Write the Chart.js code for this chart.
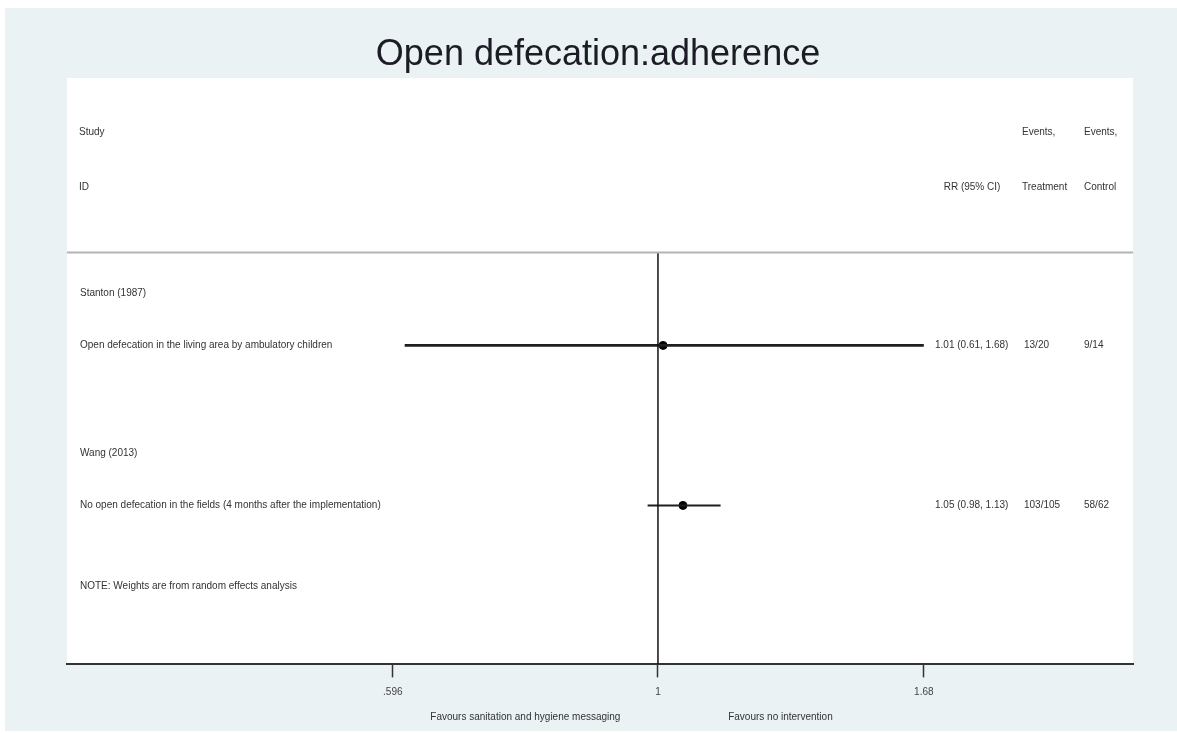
<!DOCTYPE html>
<html>
<head>
<meta charset="utf-8">
<script src="https://cdn.jsdelivr.net/npm/chart.js@4.4.1/dist/chart.umd.min.js"></script>
<style>
  html, body { margin: 0; padding: 0; background: #fff; }
  #frame { position: absolute; left: 5px; top: 8px; width: 1172px; height: 723px; background: #eaf2f3; }
  #forest { position: absolute; left: 0; top: 0; }
</style>
</head>
<body>
<div id="frame"></div>
<canvas id="forest" width="1177" height="733"></canvas>
<script>
// studies and results
const studies = ['Stanton (1987)', 'Wang (2013)'];
const outcomes = [
  'Open defecation in the living area by ambulatory children',
  'No open defecation in the fields (4 months after the implementation)'
];
const rr = [1.01, 1.05];
const ciLow = [0.61, 0.98];
const ciHigh = [1.68, 1.13];
const rrText = ['1.01 (0.61, 1.68)', '1.05 (0.98, 1.13)'];
const eventsTreatment = ['13/20', '103/105'];
const eventsControl = ['9/14', '58/62'];

// row slots (y scale units, top = 0)
const studyRows = [4.13, 7.2];
const outcomeRows = [5.13, 8.2];
const headerRows = [1.05, 2.1];
const separatorRow = 3.35;
const noteRow = 9.75;
const yMax = 11.25;

// axis
const xMin = 0.3156;
const xMax = 2.527;
const xTicks = [0.596, 1, 1.68];
const xTickLabels = ['.596', '1', '1.68'];
const favours = ['Favours sanitation and hygiene messaging', 'Favours no intervention'];
const favoursAt = [0.772, 1.27];

const FONT = "'Liberation Sans', Arial, sans-serif";

const ciSets = studies.map((s, i) => ({
  type: 'line',
  label: s,
  data: [{ x: ciLow[i], y: outcomeRows[i] }, { x: ciHigh[i], y: outcomeRows[i] }],
  borderColor: '#1e1e1e',
  borderWidth: i === 0 ? 2.6 : 2,
  pointRadius: 0
}));

const forestText = {
  id: 'forestText',
  beforeDraw(chart) {
    const { ctx, chartArea: a } = chart;
    ctx.save();
    ctx.fillStyle = '#ffffff';
    ctx.fillRect(a.left, a.top, a.right - a.left, a.bottom - a.top);
    ctx.restore();
  },
  afterDraw(chart) {
    const { ctx, scales } = chart;
    const y = (v) => scales.y.getPixelForValue(v);
    ctx.save();
    ctx.textBaseline = 'middle';

    ctx.fillStyle = '#1c1c26';
    ctx.font = '36px ' + FONT;
    ctx.textAlign = 'center';
    ctx.fillText('Open defecation:adherence', 598, 55);

    ctx.fillStyle = '#333';
    ctx.font = '10px ' + FONT;
    ctx.textAlign = 'left';
    ctx.fillText('Study', 79, y(headerRows[0]));
    ctx.fillText('ID', 79, y(headerRows[1]));
    ctx.fillText('Events,', 1022, y(headerRows[0]));
    ctx.fillText('Events,', 1084, y(headerRows[0]));
    ctx.fillText('Treatment', 1022, y(headerRows[1]));
    ctx.fillText('Control', 1084, y(headerRows[1]));
    ctx.textAlign = 'center';
    ctx.fillText('RR (95% CI)', 972, y(headerRows[1]));

    studies.forEach((s, i) => {
      ctx.textAlign = 'left';
      ctx.fillText(s, 80, y(studyRows[i]));
      ctx.fillText(outcomes[i], 80, y(outcomeRows[i]));
      ctx.fillText(rrText[i], 935, y(outcomeRows[i]));
      ctx.fillText(eventsTreatment[i], 1024, y(outcomeRows[i]));
      ctx.fillText(eventsControl[i], 1084, y(outcomeRows[i]));
    });
    ctx.fillText('NOTE: Weights are from random effects analysis', 80, y(noteRow));

    ctx.textAlign = 'center';
    favours.forEach((f, i) => {
      ctx.fillText(f, scales.x.getPixelForValue(favoursAt[i]), 717);
    });
    ctx.restore();
  }
};

new Chart(document.getElementById('forest'), {
  type: 'scatter',
  data: {
    datasets: [
      {
        type: 'line',
        label: 'header rule',
        data: [{ x: xMin, y: separatorRow }, { x: xMax, y: separatorRow }],
        borderColor: '#b4b4b4',
        borderWidth: 2,
        pointRadius: 0
      },
      {
        type: 'line',
        label: 'no effect',
        data: [{ x: 1, y: separatorRow }, { x: 1, y: yMax }],
        borderColor: '#111',
        borderWidth: 1.5,
        pointRadius: 0
      },
      ...ciSets,
      {
        label: 'RR',
        data: rr.map((v, i) => ({ x: v, y: outcomeRows[i] })),
        backgroundColor: '#000',
        borderColor: '#000',
        pointRadius: 4
      }
    ]
  },
  options: {
    responsive: false,
    animation: false,
    layout: { padding: { left: 67, right: 44, top: 78, bottom: 25.6 } },
    plugins: { legend: { display: false }, tooltip: { enabled: false } },
    scales: {
      x: {
        type: 'logarithmic',
        bounds: 'data',
        min: xMin,
        max: xMax,
        afterBuildTicks(scale) {
          scale.ticks = xTicks.map((v) => ({ value: v }));
        },
        ticks: {
          font: { family: FONT, size: 10 },
          color: '#444',
          padding: 9,
          autoSkip: false,
          maxRotation: 0,
          callback: (v, i) => xTickLabels[i]
        },
        grid: { drawOnChartArea: false, tickLength: 13, tickColor: '#333', tickWidth: 1.5 },
        border: { color: '#333', width: 2 }
      },
      y: {
        type: 'linear',
        min: 0,
        max: yMax,
        reverse: true,
        display: false
      }
    }
  },
  plugins: [forestText]
});
</script>
</body>
</html>
